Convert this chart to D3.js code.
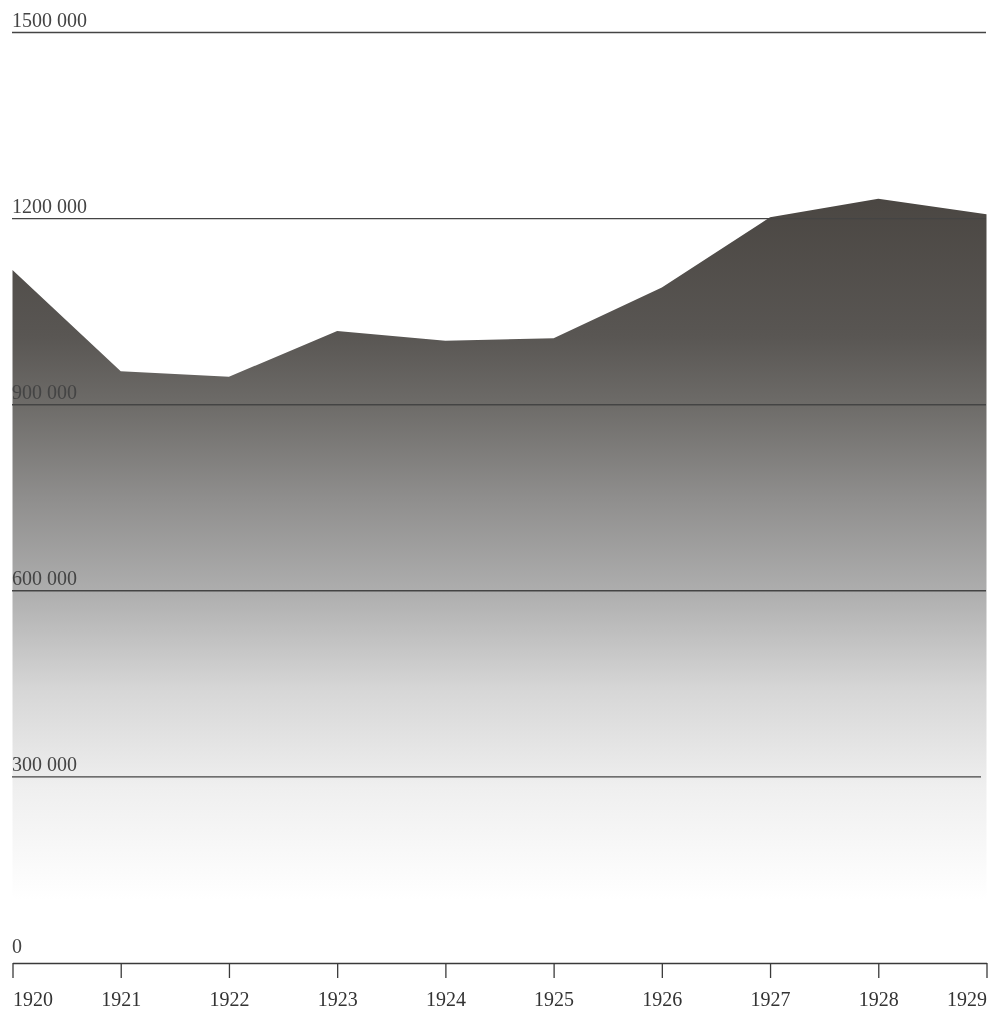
<!DOCTYPE html>
<html>
<head>
<meta charset="utf-8">
<script src="https://cdn.jsdelivr.net/npm/d3@7"></script>
<style>
  html, body { margin: 0; padding: 0; background: #fff; }
  #chart { width: 988px; height: 1010px; }
  text { font-family: "Liberation Serif", "DejaVu Serif", serif; }
</style>
</head>
<body>
<div id="chart"></div>
<script>
// values
const years = [1920, 1921, 1922, 1923, 1924, 1925, 1926, 1927, 1928, 1929];
const values = [1117000, 954000, 945000, 1019000, 1003000, 1007000, 1089000, 1202000, 1232000, 1207000];
const yTicks = [0, 300000, 600000, 900000, 1200000, 1500000];
const yTickLabels = ['0', '300 000', '600 000', '900 000', '1200 000', '1500 000'];

const width = 988, height = 1010;

const x = d3.scaleLinear().domain([1920, 1929]).range([12.5, 986.5]);
const y = d3.scaleLinear().domain([0, 1500000]).range([963, 32.5]);

const svg = d3.select('#chart').append('svg')
  .attr('width', width)
  .attr('height', height);

// vertical fade, dark at top to white at the base
const grad = svg.append('defs').append('linearGradient')
  .attr('id', 'fade')
  .attr('gradientUnits', 'userSpaceOnUse')
  .attr('x1', 0).attr('x2', 0)
  .attr('y1', 195).attr('y2', 900);
[
  [0, '#4a4642'], [0.2, '#595653'], [0.3, '#6e6c69'], [0.43, '#8f8e8d'],
  [0.56, '#adadad'], [0.7, '#d6d6d6'], [0.84, '#efefef'], [1, '#ffffff']
].forEach(([o, c]) => grad.append('stop').attr('offset', o).attr('stop-color', c));

const data = years.map((yr, i) => ({ year: yr, value: values[i] }));

const area = d3.area()
  .x(d => x(d.year))
  .y0(y(0))
  .y1(d => y(d.value));

svg.append('path')
  .datum(data)
  .attr('d', area)
  .attr('fill', 'url(#fade)');

// gridlines (0 is the axis line itself); "darken" so they sink into the dark top of the area
const grid = svg.append('g');
grid.selectAll('line')
  .data(yTicks.filter(t => t > 0))
  .join('line')
  .attr('x1', 12)
  .attr('x2', d => d === 300000 ? 981 : 986)
  .attr('y1', d => y(d))
  .attr('y2', d => y(d))
  .attr('stroke', '#444')
  .attr('stroke-width', 1.4)
  .style('mix-blend-mode', 'darken');

grid.selectAll('text')
  .data(yTicks)
  .join('text')
  .attr('x', 12)
  .attr('y', d => y(d) - (d === 0 ? 10 : 6))
  .attr('font-size', 20)
  .attr('fill', '#444')
  .text((d, i) => yTickLabels[i]);

// x axis
const xAxis = d3.axisBottom(x)
  .tickValues(years)
  .tickSize(15)
  .tickSizeOuter(0)
  .tickFormat(d3.format('d'));

const ax = svg.append('g')
  .attr('transform', `translate(0,${y(0)})`)
  .call(xAxis);

ax.select('.domain').attr('stroke', '#3a3a3a').attr('stroke-width', 1.3);
ax.selectAll('.tick line').attr('stroke', '#3a3a3a').attr('stroke-width', 1.3);
ax.selectAll('.tick text')
  .attr('font-family', '"Liberation Serif", "DejaVu Serif", serif')
  .attr('font-size', 20)
  .attr('fill', '#333')
  .attr('dy', 0)
  .attr('y', 43)
  .attr('text-anchor', (d, i) => i === 0 ? 'start' : (i === years.length - 1 ? 'end' : 'middle'));
</script>
</body>
</html>
